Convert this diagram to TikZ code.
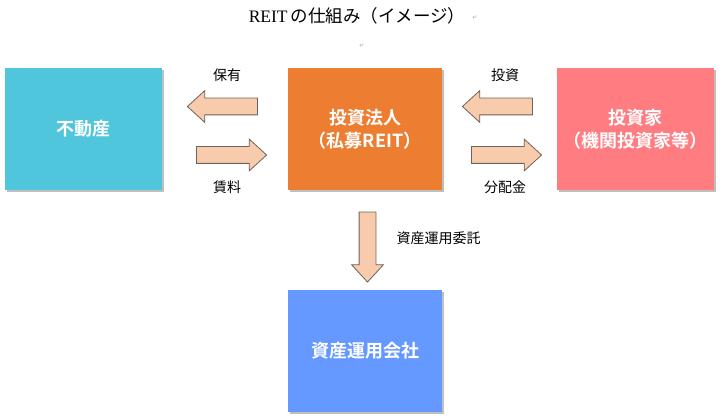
\documentclass[tikz,border=0pt]{standalone}
\usepackage{fontspec}
\setmainfont{Liberation Serif}
\newfontfamily\jpfont{Noto Sans CJK JP}[BoldFont={Noto Sans CJK JP Bold}]
\newfontfamily\symfont{DejaVu Sans}
\usepackage{tikz}
\usetikzlibrary{shapes.arrows,shadows}
\definecolor{estate}{HTML}{50C6DC}
\definecolor{fund}{HTML}{ED7D31}
\definecolor{investor}{HTML}{FF7C80}
\definecolor{manager}{HTML}{6699FF}
\definecolor{flow}{HTML}{F8CBAD}
\definecolor{flowline}{HTML}{6E6259}
\tikzset{
  party/.style={rectangle, minimum height=122pt, inner sep=0pt, align=center,
    text=white, font=\jpfont\bfseries\fontsize{18}{23}\selectfont,
    drop shadow={shadow xshift=2pt, shadow yshift=-2pt, opacity=0.25, fill=black}},
  flowarrow/.style={single arrow, draw=flowline, fill=flow, thick, inner sep=8pt,
    minimum height=70pt, single arrow head extend=7.5pt, single arrow tip angle=85},
  flowlabel/.style={font=\jpfont\fontsize{14}{16}\selectfont},
  retmark/.style={text=gray!70, font=\symfont\fontsize{6}{7}\selectfont},
}
\begin{document}
\begin{tikzpicture}[x=1pt, y=-1pt]
  \useasboundingbox (0,0) rectangle (720,419);

  % Title
  \node (title) at (357,16) {\fontsize{17.5}{20}\selectfont REIT\,{\jpfont の仕組み（イメージ）}};
  \node[retmark] (ret1) at (475,18) {↵};
  \node[retmark] (ret2) at (362,46) {↵};

  % Boxes
  \node[party, fill=estate, minimum width=157pt] (fudosan) at (83.5,129) {不動産};
  \node[party, fill=fund, minimum width=154pt] (hojin) at (365,129) {投資法人\\（私募REIT）};
  \node[party, fill=investor, minimum width=157pt] (toshika) at (635.5,129) {投資家\\（機関投資家等）};
  \node[party, fill=manager, minimum width=154pt] (unyo) at (365,351) {資産運用会社};

  % Arrows between fudosan and hojin
  \node[flowarrow, shape border rotate=180] (hoyu) at (227,106.5) {};
  \node[flowarrow] (chinryo) at (227,155) {};
  \node[flowlabel] (hoyulabel) at (227,75) {保有};
  \node[flowlabel] (chinryolabel) at (227,187) {賃料};

  % Arrows between hojin and toshika
  \node[flowarrow, shape border rotate=180] (toshi) at (502,106.5) {};
  \node[flowarrow] (haito) at (502,155) {};
  \node[flowlabel] (toshilabel) at (505,75) {投資};
  \node[flowlabel] (haitolabel) at (505,187) {分配金};

  % Arrow down to unyo
  \node[flowarrow, shape border rotate=270] (itaku) at (367.5,242.5) {};
  \node[flowlabel, anchor=west] (itakulabel) at (393,238) {資産運用委託};
\end{tikzpicture}
\end{document}
